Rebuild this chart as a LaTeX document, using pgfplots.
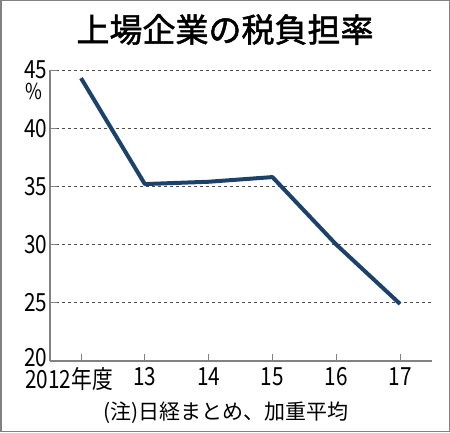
\documentclass[border=0pt]{standalone}
\usepackage{fontspec}
\usepackage{pgfplots}
\pgfplotsset{compat=1.18}
\setmainfont{Noto Sans CJK JP}
\newfontfamily\numfont{Noto Sans CJK JP}[FakeStretch=0.83]
\newfontfamily\titlefont{Noto Sans CJK JP}[FakeBold=1.6]
\definecolor{navy}{RGB}{28,66,108}
\definecolor{axgray}{RGB}{130,130,130}
\begin{document}
\begin{tikzpicture}[x=1pt,y=1pt]
\useasboundingbox (0,0) rectangle (450,432);
\draw[axgray, line width=1.5pt] (0.75,0.75) rectangle (449.25,431.25);
\begin{axis}[
  at={(50pt,71pt)}, anchor=south west,
  scale only axis, width=382pt, height=291pt,
  xmin=-0.486, xmax=5.5, ymin=20, ymax=45,
  axis x line*=bottom, axis y line*=left,
  axis line style={-, axgray, line width=1.2pt},
  xtick={0,1,2,3,4,5},
  xticklabels={\hspace*{-24pt}2012年度,13,14,15,16,17},
  ytick={20,25,30,35,40,45},
  yticklabels={\raisebox{8pt}{20},25,30,35,40,45},
  tick align=inside,
  major tick length=7pt,
  tick style={axgray, line width=1pt},
  xticklabel style={font=\numfont\fontsize{25}{25}\selectfont, yshift=-3pt},
  yticklabel style={font=\numfont\fontsize{25}{25}\selectfont, xshift=1pt},
  ymajorgrids,
  grid style={dash pattern=on 3pt off 3pt, black!70, line width=0.8pt},
  clip=false,
]
\addplot[navy, line width=4pt, line join=round] coordinates {
  (0,44.3) (1,35.2) (2,35.4) (3,35.8) (4,30.0) (5,24.9)
};
\end{axis}
\node[font=\titlefont\fontsize{33}{33}\selectfont] at (225,402.5) {上場企業の税負担率};
\node[font=\numfont\fontsize{22}{22}\selectfont] at (34,341) {\%};
\node[font=\fontsize{21}{21}\selectfont] at (226,19) {(注)日経まとめ、加重平均};
\end{tikzpicture}
\end{document}
